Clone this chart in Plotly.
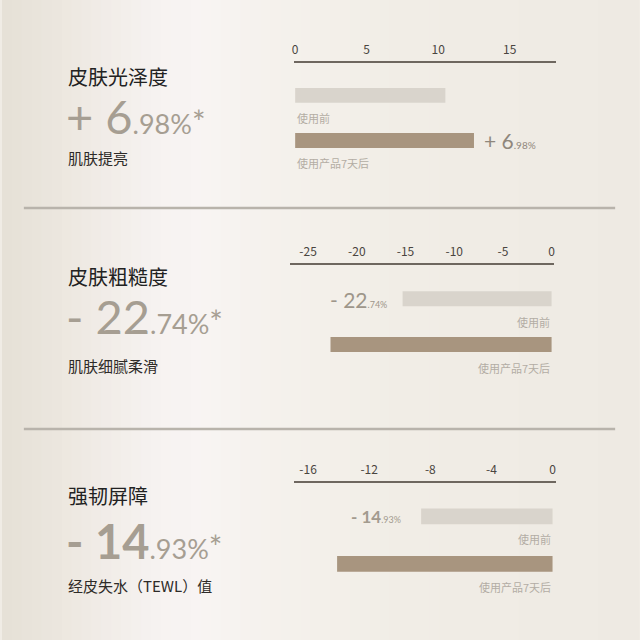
import plotly.graph_objects as go

# ---------------- data ----------------
categories = ["使用前", "使用产品7天后"]
gloss_values = [10.5, 12.5]            # 皮肤光泽度
rough_values = [-15.3, -22.7]          # 皮肤粗糙度
tewl_values = [-8.6, -14.1]            # 强韧屏障
gloss_ticks = [0, 5, 10, 15]
rough_ticks = [-25, -20, -15, -10, -5, 0]
tewl_ticks = [-16, -12, -8, -4, 0]

titles = ["皮肤光泽度", "皮肤粗糙度", "强韧屏障"]
big_sign = ["+ ", "- ", "- "]
big_int = ["6", "22", "14"]
big_dec = [".98%", ".74%", ".93%"]
subtitles = ["肌肤提亮", "肌肤细腻柔滑", "经皮失水（TEWL）值"]

W = H = 640
FONT = "Noto Sans CJK SC"
NUMFONT = "Lato"
C_BEFORE = "#d9d4cc"
C_AFTER = "#a8957f"
C_AXIS = "#6e675f"
C_NUM = "#a69e92"


def px(x):
    return x / W


def py(y):
    return 1 - y / H


fig = go.Figure()

# ----- background gradient (decor) -----
stops = [(0, (229, 224, 214)), (60, (236, 231, 223)), (150, (246, 242, 240)),
         (200, (248, 244, 243)), (260, (245, 242, 237)), (400, (241, 237, 230)),
         (640, (238, 234, 227))]


def col_at(x):
    for (x0, c0), (x1, c1) in zip(stops[:-1], stops[1:]):
        if x0 <= x <= x1:
            t = (x - x0) / (x1 - x0)
            return "rgb(%d,%d,%d)" % tuple(round(a + (b - a) * t) for a, b in zip(c0, c1))
    return "rgb(%d,%d,%d)" % stops[-1][1]


shapes = []
step = 10
for x in range(0, W, step):
    shapes.append(dict(type="rect", xref="paper", yref="paper", x0=px(x), x1=px(x + step + 1),
                       y0=0, y1=1, fillcolor=col_at(x + step / 2), line=dict(width=0), layer="below"))

# separator lines
for yy in [208, 429]:
    shapes.append(dict(type="line", xref="paper", yref="paper", x0=px(22), x1=px(617),
                       y0=py(yy), y1=py(yy), line=dict(color="#b8b3ab", width=2.5)))

panels = [
    dict(vals=gloss_values, ticks=gloss_ticks, dom=(294, 557), rng=(-0.07, 18.2),
         ytop=63, ybot=172, yrng=(1.7, -0.72), lab_x=0, lab_anchor="left"),
    dict(vals=rough_values, ticks=rough_ticks, dom=(290, 555), rng=(-26.84, 0.2),
         ytop=265, ybot=382, yrng=(1.82, -0.74), lab_x=0, lab_anchor="right"),
    dict(vals=tewl_values, ticks=tewl_ticks, dom=(294, 557), rng=(-16.91, 0.195),
         ytop=483, ybot=602, yrng=(1.8, -0.7), lab_x=0, lab_anchor="right"),
]

annotations = []
layout_axes = {}
for i, p in enumerate(panels):
    n = "" if i == 0 else str(i + 1)
    xa, ya = "x" + n, "y" + n
    fig.add_trace(go.Bar(
        y=categories, x=p["vals"], orientation="h", xaxis=xa, yaxis=ya,
        marker=dict(color=[C_BEFORE, C_AFTER], line=dict(width=0)),
        width=0.33, hoverinfo="skip", showlegend=False))
    layout_axes["xaxis" + n] = dict(
        domain=[px(p["dom"][0]), px(p["dom"][1])], range=list(p["rng"]), anchor=ya,
        side="top", showline=True, linecolor=C_AXIS, linewidth=2, showgrid=False,
        zeroline=False, tickvals=p["ticks"], ticktext=[str(t) for t in p["ticks"]],
        ticks="", ticklabelstandoff=2,
        tickfont=dict(family=FONT, size=12, color="#4a4540"), fixedrange=True)
    layout_axes["yaxis" + n] = dict(
        domain=[py(p["ybot"]), py(p["ytop"])], range=list(p["yrng"]), anchor=xa,
        visible=False, type="category", categoryarray=categories, fixedrange=True)
    # category labels under bars
    for c in categories:
        annotations.append(dict(xref=xa, yref=ya, x=p["lab_x"], y=c, yshift=-23,
                                text=c, showarrow=False, xanchor=p["lab_anchor"],
                                yanchor="middle",
                                font=dict(family=FONT, size=11, color="#b3ada4")))

# value notes next to bars
annotations.append(dict(xref="x", yref="y", x=gloss_values[1], y=categories[1], xshift=8,
                        text="+ 6<span style='font-size:10px'>.98%</span>", showarrow=False,
                        xanchor="left", yanchor="middle",
                        font=dict(family=NUMFONT, size=21, color="#8f877c")))
annotations.append(dict(xref="x2", yref="y2", x=rough_values[0], y=categories[0], xshift=-14,
                        yshift=-1,
                        text="- 22<span style='font-size:9px'>.74%</span>", showarrow=False,
                        xanchor="right", yanchor="middle",
                        font=dict(family=NUMFONT, size=21, color="#9e968a")))
annotations.append(dict(xref="x3", yref="y3", x=tewl_values[0], y=categories[0], xshift=-18,
                        text="<b>- 14</b><span style='font-size:9px'>.93%</span>", showarrow=False,
                        xanchor="right", yanchor="middle",
                        font=dict(family=NUMFONT, size=17, color="#a39b8f")))

# left text blocks
title_y = [76, 276, 495]
big_y = [116, 316, 541]
sub_y = [158, 365, 585]
for i in range(3):
    annotations.append(dict(xref="paper", yref="paper", x=px(64), y=py(title_y[i]),
                            text=titles[i], showarrow=False, xanchor="left", yanchor="middle",
                            font=dict(family=FONT, size=20, color="#222222")))
    intpart = big_int[i] if i < 2 else "<b>" + big_int[i] + "</b>"
    sign = big_sign[i] if i < 2 else "<b>" + big_sign[i] + "</b>"
    txt = (sign + intpart + "<span style='font-size:27px'>" + big_dec[i]
           + "</span><span style='font-size:32px'>*</span>")
    annotations.append(dict(xref="paper", yref="paper", x=px(62), y=py(big_y[i]),
                            text=txt, showarrow=False, xanchor="left", yanchor="middle",
                            font=dict(family=NUMFONT, size=47, color=C_NUM)))
    annotations.append(dict(xref="paper", yref="paper", x=px(64), y=py(sub_y[i]),
                            text=subtitles[i], showarrow=False, xanchor="left", yanchor="middle",
                            font=dict(family=FONT, size=15, color="#2e2b28")))

fig.update_layout(
    width=W, height=H, margin=dict(l=0, r=0, t=0, b=0),
    paper_bgcolor="#f0ece5", plot_bgcolor="rgba(0,0,0,0)",
    shapes=shapes, annotations=annotations, bargap=0.5,
    font=dict(family=FONT), **layout_axes)

fig.write_html("out.html", config={"displayModeBar": False},
               post_script="document.body.style.margin='0';")
